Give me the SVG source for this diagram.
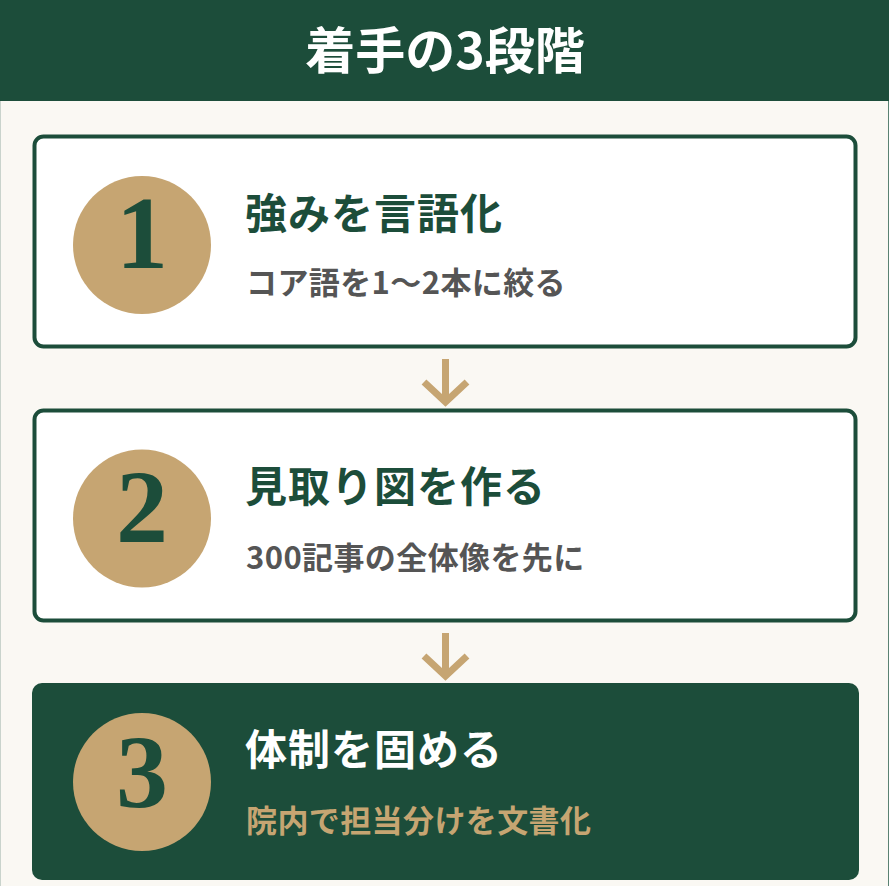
<svg xmlns="http://www.w3.org/2000/svg" width="889" height="886" viewBox="0 0 889 886">
<style>
.t{font-family:"Noto Sans CJK JP","Noto Sans",sans-serif;font-weight:700}
.num{font-family:"Liberation Serif","DejaVu Serif",serif;font-weight:700;font-size:104px;fill:#1C4D3A;text-anchor:middle}
.h{font-size:42px;letter-spacing:1px;fill:#1C4D3A}
.s{font-size:31px;letter-spacing:0.4px;fill:#555555}
.box{fill:#FFFFFF;stroke:#1C4D3A;stroke-width:4}
.circ{fill:#C6A572}
.arr{fill:none;stroke:#C6A572;stroke-width:7}
</style>
<rect x="0" y="0" width="889" height="886" fill="#FAF8F3"/>
<line x1="0.5" y1="101" x2="0.5" y2="886" stroke="#C9D3CC" stroke-width="1"/>
<line x1="888.5" y1="101" x2="888.5" y2="886" stroke="#5A8272" stroke-width="1"/>
<g id="header">
<rect x="0" y="0" width="889" height="101" fill="#1C4D3A"/>
<text class="t" x="445" y="69" font-size="50" fill="#FFFFFF" text-anchor="middle">着手の3段階</text>
</g>
<g id="step1">
<rect class="box" x="34.5" y="136.5" width="821" height="210" rx="9"/>
<circle class="circ" cx="142" cy="245" r="69"/>
<text class="num" x="142" y="268">1</text>
<text class="t h" x="245" y="229">強みを言語化</text>
<text class="t s" x="246" y="294">コア語を1〜2本に絞る</text>
</g>
<g id="step2">
<rect class="box" x="34.5" y="410.5" width="821" height="210" rx="9"/>
<circle class="circ" cx="142" cy="518.5" r="69"/>
<text class="num" x="142" y="542">2</text>
<text class="t h" x="245" y="502">見取り図を作る</text>
<text class="t s" x="246" y="569">300記事の全体像を先に</text>
</g>
<g id="step3">
<rect x="32" y="683" width="827" height="197" rx="10" fill="#1C4D3A"/>
<circle class="circ" cx="142" cy="782" r="69"/>
<text class="num" x="142" y="807">3</text>
<text class="t h" x="245" y="765" style="fill:#FFFFFF">体制を固める</text>
<text class="t s" x="246" y="832" style="fill:#C6A572">院内で担当分けを文書化</text>
</g>
<g id="connectors">
<path class="arr" d="M445.5 359 V401 M424 382 L445.5 402 L467 382"/>
<path class="arr" d="M445.5 633 V675 M424 656 L445.5 676 L467 656"/>
</g>
</svg>
